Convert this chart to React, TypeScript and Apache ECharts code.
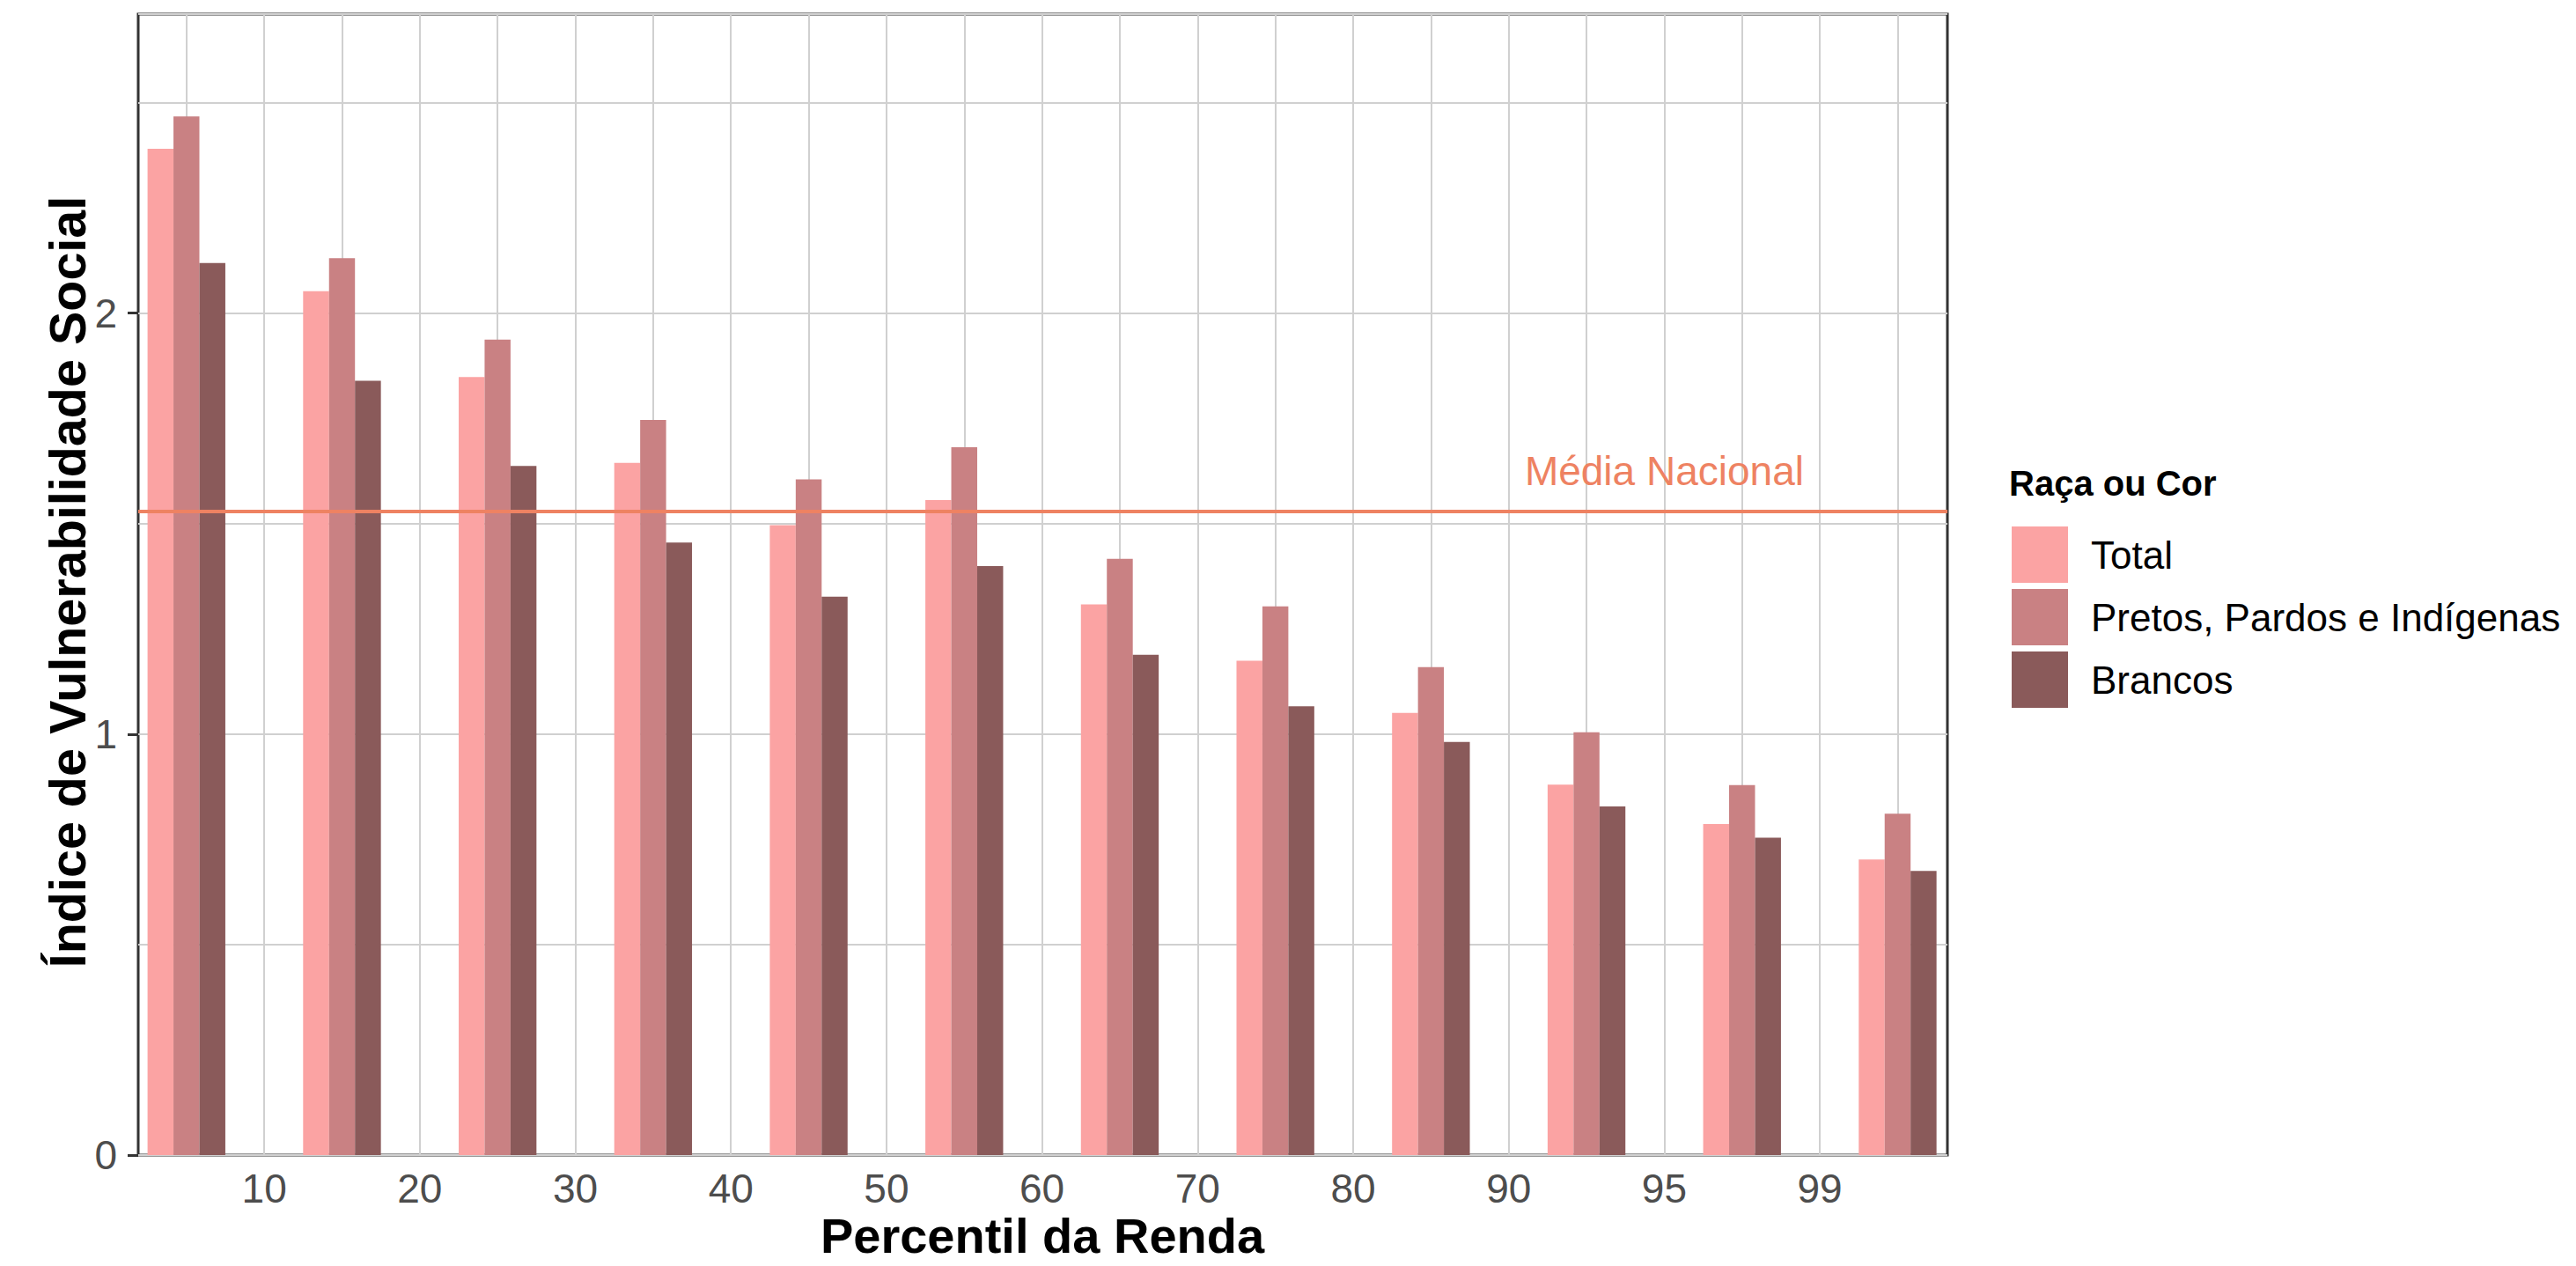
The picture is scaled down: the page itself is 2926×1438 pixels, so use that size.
import React, { useEffect, useRef } from "react";
import * as echarts from "echarts";

// Percentile groups (bars sit between the boundary labels)
const groupNames = ["0-10", "10-20", "20-30", "30-40", "40-50", "50-60", "60-70", "70-80", "80-90", "90-95", "95-99", "99-100"];
const groupPositions = [0.5, 1.5, 2.5, 3.5, 4.5, 5.5, 6.5, 7.5, 8.5, 9.5, 10.5, 11.5];
// Boundary tick labels
const tickValues = [1, 2, 3, 4, 5, 6, 7, 8, 9, 10, 11];
const tickLabels = ["10", "20", "30", "40", "50", "60", "70", "80", "90", "95", "99"];

const seriesNames = ["Total", "Pretos, Pardos e Indígenas", "Brancos"];
const totalValues = [2.39, 2.052, 1.848, 1.644, 1.496, 1.556, 1.308, 1.174, 1.05, 0.88, 0.786, 0.702];
const pretosValues = [2.467, 2.13, 1.937, 1.746, 1.605, 1.681, 1.416, 1.303, 1.159, 1.004, 0.879, 0.811];
const brancosValues = [2.119, 1.839, 1.637, 1.455, 1.326, 1.399, 1.188, 1.066, 0.981, 0.828, 0.754, 0.675];

const mediaNacional = 1.53;
const mediaLabel = "Média Nacional";
const mediaLabelCoord = [10, 1.625];

const yTickValues = [0, 1, 2];

const FONT = '"Liberation Sans", Arial, Helvetica, sans-serif';
const colors = ["#FBA3A3", "#C98183", "#8A5A5A"];
const mediaColor = "#EE8262";
const gridColor = "#D0D0D0";
const textGray = "#4D4D4D";

const BAR_W = 1 / 6;
const offsets = [-BAR_W, 0, BAR_W];

function makeRender(offset: number) {
  return (params: any, api: any) => {
    const x = api.value(0);
    const y = api.value(1);
    const p0 = api.coord([x + offset - BAR_W / 2, y]);
    const p1 = api.coord([x + offset + BAR_W / 2, 0]);
    return {
      type: "rect",
      shape: { x: p0[0], y: p0[1], width: p1[0] - p0[0], height: p1[1] - p0[1] },
      style: { fill: api.visual("color") },
    };
  };
}

export default function App() {
  const ref = useRef<HTMLDivElement>(null);
  useEffect(() => {
    if (!ref.current) return;
    const chart = echarts.init(ref.current, null, { renderer: "svg" });
    const allValues = [totalValues, pretosValues, brancosValues];
    const gridPositions = [...groupPositions, ...tickValues].sort((a, b) => a - b);

    const series: any[] = seriesNames.map((name, si) => ({
      type: "custom",
      name,
      renderItem: makeRender(offsets[si]),
      data: groupPositions.map((g, i) => ({ name: groupNames[i], value: [g, allValues[si][i]] })),
      encode: { x: 0, y: 1 },
      itemStyle: { color: colors[si] },
      xAxisIndex: 0,
      yAxisIndex: 0,
      silent: true,
      z: 2,
    }));
    series[2].markLine = {
      silent: true,
      symbol: "none",
      data: [{ yAxis: mediaNacional }],
      lineStyle: { color: mediaColor, width: 4, type: "solid" },
      label: { show: false },
      emphasis: { disabled: true },
    };
    series[2].markPoint = {
      silent: true,
      symbol: "circle",
      symbolSize: 1,
      itemStyle: { color: "rgba(0,0,0,0)" },
      data: [{ coord: mediaLabelCoord }],
      label: {
        show: true,
        position: "inside",
        formatter: mediaLabel,
        color: mediaColor,
        fontSize: 46,
        fontFamily: FONT,
      },
    };

    chart.setOption({
      animation: false,
      backgroundColor: "#ffffff",
      grid: {
        left: 157,
        right: 714,
        top: 16,
        bottom: 126,
        show: true,
        borderColor: "#333333",
        borderWidth: 3,
        backgroundColor: "#ffffff",
        z: 0,
      },
      xAxis: [
        {
          type: "value",
          min: 0.19,
          max: 11.82,
          axisLine: { show: false },
          axisTick: { show: false, customValues: gridPositions },
          axisLabel: {
            customValues: tickValues,
            formatter: (v: number) => {
              const idx = tickValues.indexOf(Math.round(v));
              return idx >= 0 && Math.abs(v - Math.round(v)) < 1e-6 ? tickLabels[idx] : "";
            },
            fontSize: 46,
            color: textGray,
            fontFamily: FONT,
            margin: 15,
          },
          splitLine: { show: true, lineStyle: { color: gridColor, width: 2 } },
        },
      ],
      yAxis: [
        {
          type: "value",
          min: 0,
          max: 2.71,
          interval: 0.5,
          axisLine: { show: false },
          axisTick: { show: false },
          axisLabel: {
            formatter: (v: number) => (yTickValues.indexOf(v) >= 0 ? String(v) : ""),
            fontSize: 46,
            color: textGray,
            fontFamily: FONT,
            margin: 24,
          },
          splitLine: { show: true, lineStyle: { color: gridColor, width: 2 } },
        },
        {
          type: "value",
          min: 0,
          max: 2.71,
          interval: 1,
          position: "left",
          axisLine: { show: false },
          axisTick: {
            show: true,
            customValues: yTickValues,
            length: 12,
            lineStyle: { color: "#333333", width: 3 },
          },
          axisLabel: { show: false },
          splitLine: { show: false },
        },
      ],
      legend: {
        data: seriesNames,
        orient: "vertical",
        left: 2280,
        top: 593,
        itemWidth: 64,
        itemHeight: 64,
        itemGap: 7,
        icon: "rect",
        selectedMode: false,
        textStyle: { fontSize: 44, color: "#000000", fontFamily: FONT, padding: [0, 0, 0, 21] },
      },
      graphic: [
        {
          type: "text",
          x: 2282,
          y: 549,
          style: {
            text: "Raça ou Cor",
            fontSize: 40,
            fontWeight: "bold",
            fontFamily: FONT,
            fill: "#000000",
            align: "left",
            verticalAlign: "middle",
          },
        },
        {
          type: "text",
          x: 1184,
          y: 1403,
          style: {
            text: "Percentil da Renda",
            fontSize: 56,
            fontWeight: "bold",
            fontFamily: FONT,
            fill: "#000000",
            align: "center",
            verticalAlign: "middle",
          },
        },
        {
          type: "text",
          x: 77,
          y: 661,
          rotation: Math.PI / 2,
          style: {
            text: "Índice de Vulnerabilidade Social",
            fontSize: 57.5,
            fontWeight: "bold",
            fontFamily: FONT,
            fill: "#000000",
            align: "center",
            verticalAlign: "middle",
          },
        },
      ],
      series,
    });
    return () => chart.dispose();
  }, []);
  return (
    <div
      ref={ref}
      style={{ position: "absolute", left: 0, top: 0, width: 2926, height: 1438, background: "#ffffff" }}
    />
  );
}
